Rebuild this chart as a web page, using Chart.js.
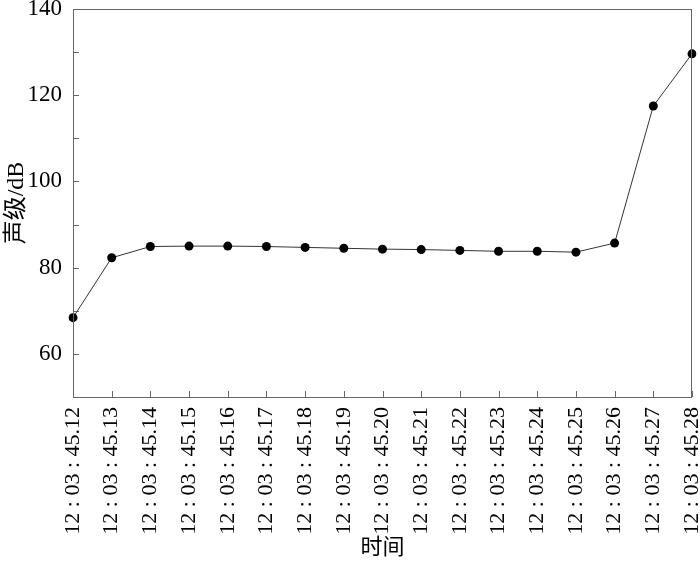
<!DOCTYPE html>
<html>
<head>
  <title>声级随时间变化</title>
  <script src="https://cdn.jsdelivr.net/npm/chart.js"></script>
  <style>
    html, body { margin: 0; padding: 0; background: #fff; }
    #wrap { width: 700px; height: 565px; }
  </style>
</head>
<body>
<div id="wrap"><canvas id="myChart"></canvas></div>

<script>
// time stamps (x categories)
var times = ['12:03:45.12', '12:03:45.13', '12:03:45.14', '12:03:45.15', '12:03:45.16',
             '12:03:45.17', '12:03:45.18', '12:03:45.19', '12:03:45.20', '12:03:45.21',
             '12:03:45.22', '12:03:45.23', '12:03:45.24', '12:03:45.25', '12:03:45.26',
             '12:03:45.27', '12:03:45.28'];
// sound level in dB
var levels = [68.4, 82.3, 84.9, 85.0, 85.0, 84.9, 84.7, 84.5, 84.3, 84.2,
              84.0, 83.8, 83.8, 83.6, 85.7, 117.5, 129.6];
// y axis
var yMin = 50, yMax = 140, yStep = 10;
var yLabelled = [60, 80, 100, 120, 140];

var serif = "'Liberation Serif', 'Noto Sans CJK SC', serif";

// frame round the plot and short ticks pointing inwards
var frameTicks = {
  id: 'frameTicks',
  afterDraw: function(chart) {
    var ctx = chart.ctx, a = chart.chartArea;
    var xs = chart.scales.x, ys = chart.scales.y;
    ctx.save();
    ctx.strokeStyle = '#666';
    ctx.lineWidth = 1;
    ctx.strokeRect(a.left + 0.5, a.top + 0.5, a.right - a.left - 1, a.bottom - a.top);
    ctx.beginPath();
    for (var i = 0; i < xs.ticks.length; i++) {
      var px = Math.round(xs.getPixelForTick(i)) + 0.5;
      ctx.moveTo(px, a.bottom);
      ctx.lineTo(px, a.bottom - 6);
    }
    for (var j = 0; j < ys.ticks.length; j++) {
      var py = Math.round(ys.getPixelForTick(j)) + 0.5;
      ctx.moveTo(a.left, py);
      ctx.lineTo(a.left + 6, py);
    }
    ctx.stroke();
    ctx.restore();
  }
};

var ctx = document.getElementById('myChart').getContext('2d');
var chart = new Chart(ctx, {
  type: 'line',
  data: {
    labels: times.map(function(t) { return t.replace(/:/g, ' : '); }),
    datasets: [{
      label: '声级',
      data: levels,
      borderColor: '#333',
      borderWidth: 1,
      backgroundColor: '#000',
      pointRadius: 4.5,
      pointBorderWidth: 0,
      pointBackgroundColor: '#000',
      tension: 0
    }]
  },
  options: {
    responsive: true,
    maintainAspectRatio: false,
    animation: false,
    layout: { padding: { top: 9, right: 8, left: 0, bottom: 0 } },
    plugins: {
      legend: { display: false },
      tooltip: { enabled: false }
    },
    scales: {
      x: {
        offset: false,
        grid: { display: false, drawTicks: false },
        border: { display: false },
        ticks: {
          autoSkip: false,
          minRotation: 90,
          maxRotation: 90,
          padding: 10,
          color: '#000',
          font: { family: serif, size: 22 }
        },
        title: {
          display: true,
          text: '时间',
          color: '#000',
          padding: { top: 2, bottom: 4 },
          font: { family: serif, size: 22 }
        },
        afterFit: function(scale) {
          scale.paddingLeft = 0; scale.paddingRight = 0;
          scale.height = 168;
        }
      },
      y: {
        min: yMin,
        max: yMax,
        grid: { display: false, drawTicks: false },
        border: { display: false },
        ticks: {
          stepSize: yStep,
          padding: 11,
          color: '#000',
          font: { family: serif, size: 23 },
          callback: function(v) { return yLabelled.indexOf(v) >= 0 ? v : ''; }
        },
        title: {
          display: true,
          text: '声级/dB',
          color: '#000',
          padding: { top: 2, bottom: 0 },
          font: { family: serif, size: 24 }
        },
        afterFit: function(scale) {
          scale.paddingTop = 0; scale.paddingBottom = 0;
          scale.width = 73;
        }
      }
    }
  },
  plugins: [frameTicks]
});
</script>
</body>
</html>
